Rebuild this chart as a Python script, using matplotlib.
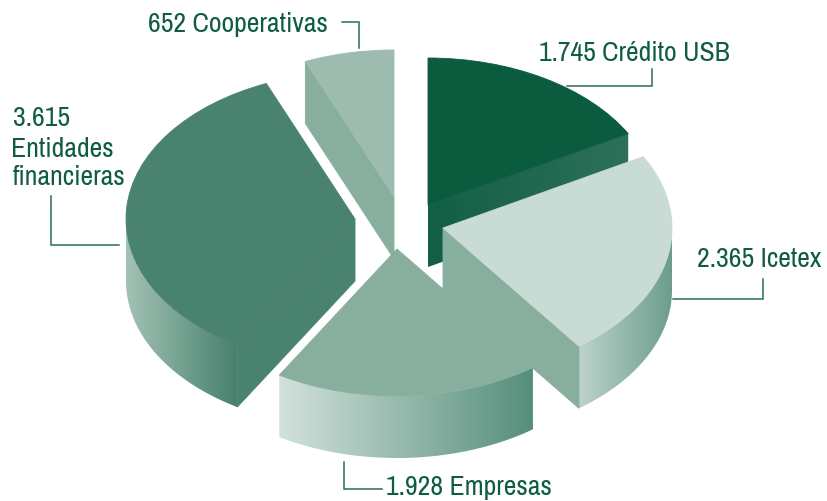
import numpy as np
import matplotlib
matplotlib.use("Agg")
import matplotlib.pyplot as plt
from matplotlib.colors import LinearSegmentedColormap
from matplotlib.patches import Polygon

categories = ["Crédito USB", "Icetex", "Empresas", "Entidades financieras", "Cooperativas"]
values = [1745, 2365, 1928, 3615, 652]
top_colors = ["#0B5B3F", "#C9DBD5", "#88AE9E", "#4A8270", "#9DBCAF"]
cut_colors = ["#2A6D55", "#88AE9E", None, "#4A8270", "#88AE9E"]

W, H = 828, 501
CX, CY, RX, RY = 394, 225, 229, 147
DEPTH = 62 / RY
offsets_px = [(428, 205), (443, 228), (397, 249), (355, 219), (394, 197)]

plt.rcParams["font.family"] = ["Archivo Narrow", "Liberation Sans", "DejaVu Sans"]
fig = plt.figure(figsize=(W / 100, H / 100), dpi=100)
ax = fig.add_axes([0, 0, 1, 1])
wedges, _ = ax.pie(values, startangle=90, counterclock=False, colors=top_colors, radius=1)
ax.set_aspect("auto")
xlim = ((0 - CX) / RX, (W - CX) / RX)
ylim = ((CY - H) / RY, CY / RY)
ax.axis("off")


def to_data(px, py):
    return (px - CX) / RX, (CY - py) / RY


def pt(center, deg, depth=0.0):
    a = np.radians(deg)
    return center[0] + np.cos(a), center[1] + np.sin(a) - depth


def gradient(poly_xy, x0, x1, c0, c1, z):
    cmap = LinearSegmentedColormap.from_list("g", [c0, c1])
    poly = Polygon(poly_xy, closed=True, transform=ax.transData, fc="none", ec="none")
    ax.add_patch(poly)
    ys = poly_xy[:, 1]
    im = ax.imshow(np.linspace(0, 1, 256)[None, :], extent=(x0, x1, ys.min(), ys.max()),
                   cmap=cmap, aspect="auto", zorder=z, origin="lower")
    im.set_clip_path(poly)


def wall(center, t0, t1, c0, c1, z):
    ts = np.linspace(t0, t1, 120)
    topa = np.array([pt(center, t) for t in ts])
    bota = np.array([pt(center, t, DEPTH) for t in ts[::-1]])
    xy = np.vstack([topa, bota])
    gradient(xy, xy[:, 0].min(), xy[:, 0].max(), c0, c1, z)


def cut(center, deg, color, z, grad=None):
    a = center
    b = pt(center, deg)
    xy = np.array([a, b, (b[0], b[1] - DEPTH), (a[0], a[1] - DEPTH)])
    if grad:
        gradient(xy, xy[:, 0].min(), xy[:, 0].max(), grad[0], grad[1], z)
    else:
        ax.add_patch(Polygon(xy, closed=True, fc=color, ec=color, lw=0.6, zorder=z))


centers = [to_data(*o) for o in offsets_px]
order = {4: 1, 0: 2, 3: 3, 2: 4, 1: 5}
for i, w in enumerate(wedges):
    w.set_center(centers[i])
    w.set_edgecolor(top_colors[i])
    w.set_linewidth(0.6)
    w.set_zorder(order[i] * 10 + 3)

z = order[4] * 10
cut(centers[4], wedges[4].theta2, cut_colors[4], z + 1)
z = order[0] * 10
cut(centers[0], wedges[0].theta1, cut_colors[0], z + 1, grad=("#125F45", "#2E7059"))
z = order[3] * 10
wall(centers[3], -180, wedges[3].theta2, "#A3C2B5", "#46806C", z)
cut(centers[3], wedges[3].theta2, cut_colors[3], z + 1)
z = order[2] * 10
wall(centers[2], wedges[2].theta1, wedges[2].theta2, "#D2E1DC", "#568F7B", z)
z = order[1] * 10
wall(centers[1], wedges[1].theta1, 0, "#BDD3CB", "#6B9D8B", z)
cut(centers[1], wedges[1].theta1, cut_colors[1], z + 1)

ax.set_xlim(*xlim)
ax.set_ylim(*ylim)

# labels and leaders, in pixel space
ov = fig.add_axes([0, 0, 1, 1], facecolor="none")
ov.set_xlim(0, W)
ov.set_ylim(H, 0)
ov.axis("off")
TXT = "#0F5C40"
FS = 20
label_specs = [
    ("1.745 Crédito USB", 539, 61),
    ("2.365 Icetex", 697, 267),
    ("1.928 Empresas", 386, 495),
    ("3.615", 13, 126),
    ("Entidades", 11, 157),
    ("financieras", 13, 185),
    ("652 Cooperativas", 148, 32),
]
for s, x, y in label_specs:
    ov.text(x, y, s, color=TXT, fontsize=FS, ha="left", va="baseline")
leaders = [
    ([567, 652, 652], [86, 86, 69]),
    ([673, 763, 763], [299, 299, 279]),
    ([344, 344, 382], [462, 489, 489]),
    ([51, 51, 119], [196, 245, 245]),
    ([342, 359, 359], [22, 22, 48]),
]
for xs, ys in leaders:
    ov.plot(xs, ys, color="#2A6D55", lw=1.1, solid_joinstyle="miter")

fig.savefig("out.png", dpi=100)
